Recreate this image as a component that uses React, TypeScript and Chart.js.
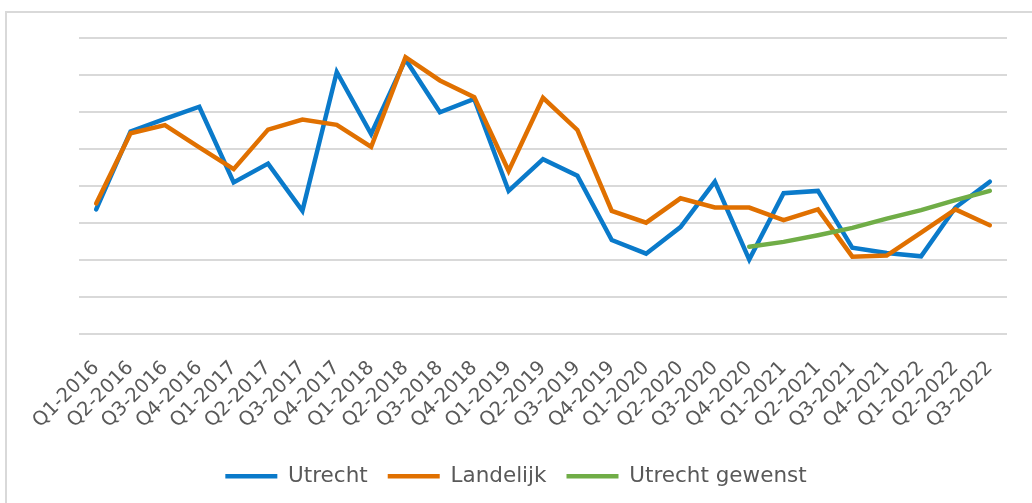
import React, { useEffect, useRef } from "react";
import { Chart, registerables } from "chart.js";

Chart.register(...registerables);

const categories = [
  "Q1-2016", "Q2-2016", "Q3-2016", "Q4-2016",
  "Q1-2017", "Q2-2017", "Q3-2017", "Q4-2017",
  "Q1-2018", "Q2-2018", "Q3-2018", "Q4-2018",
  "Q1-2019", "Q2-2019", "Q3-2019", "Q4-2019",
  "Q1-2020", "Q2-2020", "Q3-2020", "Q4-2020",
  "Q1-2021", "Q2-2021", "Q3-2021", "Q4-2021",
  "Q1-2022", "Q2-2022", "Q3-2022",
];

const utrecht = [
  3.36, 5.47, 5.81, 6.14,
  4.09, 4.6, 3.32, 7.08,
  5.4, 7.42, 5.99, 6.35,
  3.86, 4.72, 4.27, 2.53,
  2.16, 2.88, 4.11, 2.0,
  3.8, 3.86, 2.32, 2.18,
  2.09, 3.41, 4.11,
];

const landelijk = [
  3.52, 5.42, 5.64, 5.04,
  4.45, 5.52, 5.79, 5.65,
  5.05, 7.48, 6.85, 6.4,
  4.4, 6.38, 5.51, 3.32,
  3.0, 3.66, 3.41, 3.41,
  3.07, 3.36, 2.08, 2.11,
  2.73, 3.36, 2.93,
];

const utrechtGewenst = [
  null, null, null, null,
  null, null, null, null,
  null, null, null, null,
  null, null, null, null,
  null, null, null, 2.35,
  2.48, 2.66, 2.86, 3.11,
  3.34, 3.61, 3.86,
];

const seriesNames = ["Utrecht", "Landelijk", "Utrecht gewenst"];

const FONT = '"DejaVu Sans", sans-serif';

export default function App() {
  const canvasRef = useRef<HTMLCanvasElement | null>(null);

  useEffect(() => {
    if (!canvasRef.current) return;
    const common = {
      borderWidth: 4.5,
      pointRadius: 0,
      borderCapStyle: "round" as const,
      borderJoinStyle: "miter" as const,
    };
    const chart = new Chart(canvasRef.current, {
      type: "line",
      data: {
        labels: categories,
        datasets: [
          {
            label: seriesNames[0],
            data: utrecht,
            borderColor: "#0A7ACA",
            backgroundColor: "#0A7ACA",
            order: 2,
            ...common,
          },
          {
            label: seriesNames[1],
            data: landelijk,
            borderColor: "#E07000",
            backgroundColor: "#E07000",
            order: 1,
            ...common,
          },
          {
            label: seriesNames[2],
            data: utrechtGewenst,
            borderColor: "#70AD47",
            backgroundColor: "#70AD47",
            spanGaps: false,
            order: 0,
            ...common,
          },
        ],
      },
      options: {
        animation: false,
        responsive: false,
        maintainAspectRatio: false,
        layout: { padding: { left: 25, right: 25, top: 38, bottom: 11 } },
        plugins: {
          tooltip: { enabled: false },
          legend: {
            position: "bottom",
            labels: {
              usePointStyle: true,
              pointStyle: "line",
              pointStyleWidth: 52,
              padding: 20,
              color: "#595959",
              font: { family: FONT, size: 21.5 },
              sort: (a: any, b: any) => a.datasetIndex - b.datasetIndex,
            },
          },
        },
        scales: {
          x: {
            offset: true,
            grid: { display: false, drawTicks: false },
            border: { display: false },
            ticks: {
              autoSkip: false,
              minRotation: 45,
              maxRotation: 45,
              padding: 23,
              color: "#595959",
              font: { family: FONT, size: 19.5 },
            },
            afterFit: (scale: any) => {
              scale.height = 112;
            },
          },
          y: {
            min: 0,
            max: 8,
            ticks: { display: false, stepSize: 1 },
            grid: { color: "#D9D9D9", lineWidth: 2, drawTicks: false },
            border: { display: false },
            afterFit: (scale: any) => {
              scale.width = 54;
            },
          },
        },
      },
    });
    return () => chart.destroy();
  }, []);

  return (
    <>
      <style>{`body{margin:0;overflow:hidden;background:#fff}`}</style>
      <div
        style={{
          position: "absolute",
          left: 5,
          top: 11,
          width: 1100,
          height: 600,
          border: "2px solid #D9D9D9",
          boxSizing: "border-box",
        }}
      />
      <div style={{ position: "absolute", left: 0, top: 0, width: 1032, height: 508 }}>
        <canvas ref={canvasRef} width={1032} height={508} style={{ display: "block" }} />
      </div>
    </>
  );
}
